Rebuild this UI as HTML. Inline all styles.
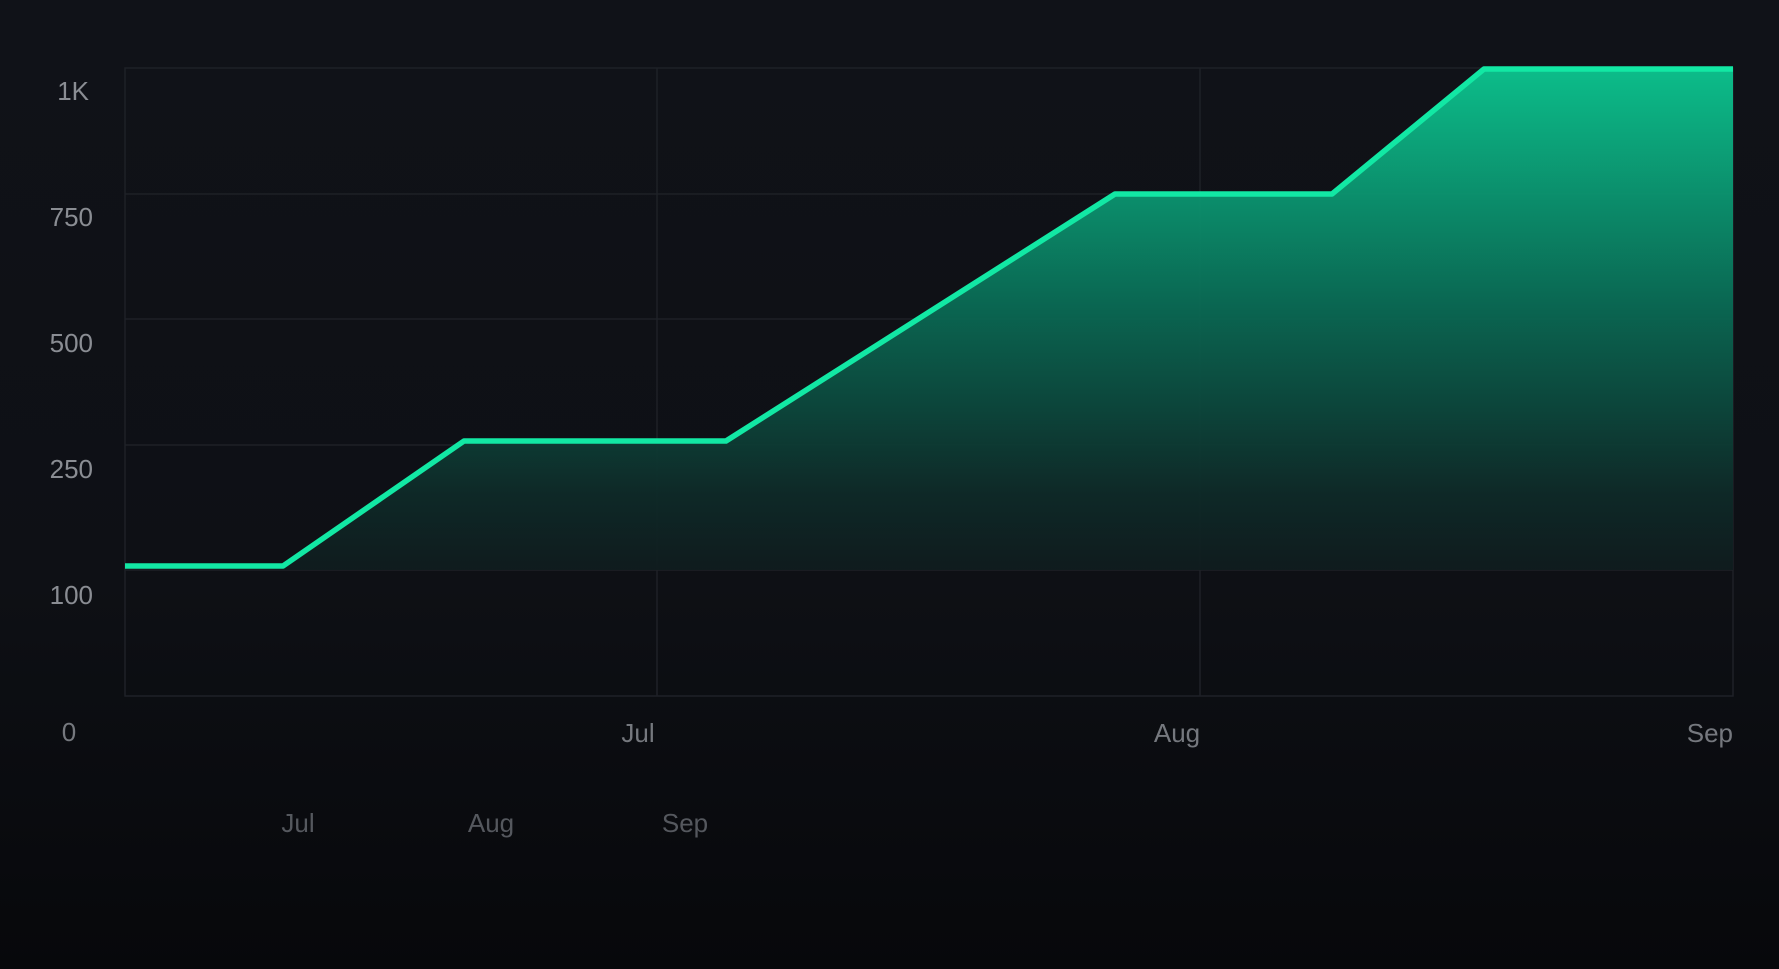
<!DOCTYPE html>
<html><head><meta charset="utf-8"><style>
html,body{margin:0;padding:0;width:1779px;height:969px;overflow:hidden;background:linear-gradient(#101218 0%,#0e1015 60%,#07080b 100%);}
svg{display:block}
text{font-family:"Liberation Sans",sans-serif;font-size:26px;}
</style></head><body>
<svg width="1779" height="969" viewBox="0 0 1779 969">
<defs>
<linearGradient id="g" x1="0" y1="68" x2="0" y2="600" gradientUnits="userSpaceOnUse">
<stop offset="0" stop-color="#0cc690"/>
<stop offset="0.45" stop-color="#0a6a54"/>
<stop offset="0.8" stop-color="#0e2a28"/>
<stop offset="1" stop-color="#10161a"/>
</linearGradient>
</defs>
<g stroke="#1e2127" stroke-width="1.5" fill="none">
<rect x="125" y="68" width="1608" height="628"/>
<line x1="125" y1="194" x2="1733" y2="194"/>
<line x1="125" y1="319" x2="1733" y2="319"/>
<line x1="125" y1="445" x2="1733" y2="445"/>
<line x1="125" y1="570" x2="1733" y2="570"/>
<line x1="657" y1="68" x2="657" y2="696"/>
<line x1="1200" y1="68" x2="1200" y2="696"/>
</g>
<path d="M125,566 L283,566 L464,441 L726,441 L1115,194 L1332,194 L1484,69 L1733,69 L1733,570 L283,570 Z" fill="url(#g)" opacity="0.95"/>
<polyline points="125,566 283,566 464,441 726,441 1115,194 1332,194 1484,69 1733,69" fill="none" stroke="#12e8a4" stroke-width="5.5" stroke-linejoin="round"/>
<g fill="#8a8d93" text-anchor="end">
<text x="89" y="100">1K</text>
<text x="93" y="226">750</text>
<text x="93" y="352">500</text>
<text x="93" y="478">250</text>
<text x="93" y="604">100</text>
</g>
<g fill="#75787e" text-anchor="middle">
<text x="69" y="741">0</text>
<text x="638" y="742">Jul</text>
<text x="1177" y="742">Aug</text>
<text x="1733" y="742" text-anchor="end">Sep</text>
</g>
<g fill="#55585e" text-anchor="middle">
<text x="298" y="832">Jul</text>
<text x="491" y="832">Aug</text>
<text x="685" y="832">Sep</text>
</g>
</svg>
</body></html>
